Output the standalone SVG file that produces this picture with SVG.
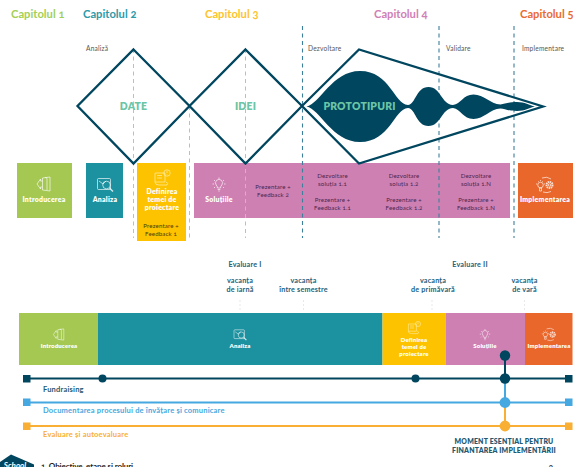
<svg xmlns="http://www.w3.org/2000/svg" width="586" height="467" viewBox="0 0 586 467">
<style>
text{font-family:"Lato","Liberation Sans",sans-serif;text-anchor:middle;font-variant-numeric:oldstyle-nums}
.cap{font-size:11.2px;font-weight:700;text-anchor:start}
.ph{font-size:6.6px;fill:#555;text-anchor:start;letter-spacing:.2px}
.big{font-size:10.4px;font-weight:800;fill:#6cc5a5;letter-spacing:.2px}
.w{font-size:6.9px;font-weight:800;fill:#fff;letter-spacing:.25px}
.ws{font-size:6px;font-weight:800;fill:#fff;letter-spacing:.15px}
.d{font-size:6.1px;fill:#4a2650;letter-spacing:.15px}
.dy{font-size:6.1px;fill:#4a3c00;letter-spacing:.15px}
.ev{font-size:7.2px;font-weight:700;fill:#24607a;letter-spacing:.2px}
.lab{font-size:7.5px;font-weight:700;text-anchor:start;letter-spacing:.2px}
.m{font-size:6.9px;font-weight:800;fill:#1f5a72;letter-spacing:.2px}
.dia{fill:none;stroke:#00465f;stroke-width:2.3;stroke-linejoin:miter}
.dl{fill:none;stroke:#a6c7d0;stroke-width:1;stroke-dasharray:4 3.5}
.dk{fill:none;stroke:#3e7f9b;stroke-width:1.1;stroke-dasharray:4 3.5}
.fa{fill:none;stroke:#e9e9e9;stroke-width:1;stroke-dasharray:2 2}
.ic{fill:none;stroke:#fff;stroke-opacity:.8;stroke-width:.8;stroke-linejoin:round}
</style>
<defs>
<g id="door" class="ic"><path d="M-1.500-6 L6-7 V7 L-1.500 6 Z M1-6.500 Q3-7 3-5 V6"/><path d="M-1.500-3 H-3.500 V-5 L-7 0 L-3.500 5 V3 H-1.500"/></g>
<g id="mag" class="ic"><rect x="-7.500" y="-6.500" width="13" height="11" rx="1"/><path d="M-6-4 L-2-1 L1-4"/><circle cx="1.500" cy="0" r="3.800"/><path d="M4.500 3 L8 6.500" stroke-width="1.500"/></g>
<g id="def" class="ic" style="stroke:#fff3c0"><path d="M-7-5 H3 V4 H-7 Z M-5-2.500 H0 M-5 0 H0"/><circle cx="5" cy="-5" r="3.200"/><path d="M5-7 V-5 M5-4 V-3.400"/><path d="M-7 4 Q-7 7-3 7 H5 Q7 5 4 4"/></g>
<g id="bulb" class="ic"><path d="M-1.500 3 Q-1.500 1.500-2.800 0 A3.500 3.500 0 1 1 2.800 0 Q1.500 1.500 1.500 3 Z M-1.300 4.500 H1.300 M-.7 6 H.7"/><path d="M0-7.500 V-6 M-5-5 L-4-4 M5-5 L4-4 M-6.500-1 H-5 M6.500-1 H5 M-5 3 L-4 2 M5 3 L4 2"/></g>
<g id="gears" class="ic"><circle cx="-4.500" cy="0" r="2.800"/><path d="M-4.500-5 V-4 M-9-1 H-8 M-1-1 H0 M-7-4 L-6.300-3.300 M-2-4 L-2.700-3.300 M-5.500 3 H-3.500 V6 H-5.500 Z"/><circle cx="4.500" cy="0" r="3" stroke-width="2" stroke-dasharray="1.400 .6"/><circle cx="4.500" cy="0" r="1.200"/><path d="M-3-7 Q2-9 6-6 M6 6.500 Q2 8.500-2 7"/></g>
</defs>

<rect width="586" height="467" fill="#fff"/>

<g id="chapters">
<text class="cap" x="11" y="18" fill="#a3cf55">Capitolul 1</text>
<text class="cap" x="83" y="18" fill="#2c9aa9">Capitolul 2</text>
<text class="cap" x="205" y="18" fill="#fdc32d">Capitolul 3</text>
<text class="cap" x="374" y="18" fill="#d07fb5">Capitolul 4</text>
<text class="cap" x="520" y="18" fill="#ea6a32">Capitolul 5</text>
</g>
<g id="phases">
<text class="ph" x="86" y="51">Analiză</text>
<text class="ph" x="308" y="51">Dezvoltare</text>
<text class="ph" x="446" y="51">Validare</text>
<text class="ph" x="522" y="51">Implementare</text>
</g>

<g id="box-introducerea"><rect x="17" y="163" width="55" height="55" fill="#a4c851"/><use href="#door" x="44" y="184"/><text class="w" x="44" y="202">Introducerea</text></g>
<g id="box-analiza"><rect x="86" y="163" width="37" height="55" fill="#1c91a0"/><use href="#mag" x="105" y="185"/><text class="w" x="105" y="202">Analiza</text></g>
<g id="box-definirea"><rect x="137" y="163" width="49" height="78" fill="#fdc300"/><use href="#def" x="162" y="178"/><text class="w" x="162" y="193.500">Definirea</text><text class="w" x="162" y="202">temei de</text><text class="w" x="162" y="210">proiectare</text><text class="dy" x="161" y="228">Prezentare +</text><text class="dy" x="161" y="235.500">Feedback 1</text></g>
<g id="box-solutii"><rect x="194" y="163" width="316" height="55" fill="#cf80b2"/><use href="#bulb" x="219" y="185"/><text class="w" x="219" y="202">Soluțiile</text>
<text class="d" x="273" y="189">Prezentare +</text><text class="d" x="273" y="196.500">Feedback 2</text>
<text class="d" x="332.500" y="178">Dezvoltare</text><text class="d" x="332.500" y="185.500">soluția 1.1</text><text class="d" x="332.500" y="202">Prezentare +</text><text class="d" x="332.500" y="209.500">Feedback 1.1</text>
<text class="d" x="404" y="178">Dezvoltare</text><text class="d" x="404" y="185.500">soluția 1.2</text><text class="d" x="404" y="202">Prezentare +</text><text class="d" x="404" y="209.500">Feedback 1.2</text>
<text class="d" x="476" y="178">Dezvoltare</text><text class="d" x="476" y="185.500">soluția 1.N</text><text class="d" x="476" y="202">Prezentare +</text><text class="d" x="476" y="209.500">Feedback 1.N</text></g>
<g id="box-implementarea"><rect x="518" y="163" width="55" height="55" fill="#e9672b"/><use href="#gears" x="545" y="185"/><text class="w" x="545" y="202">Implementarea</text></g>

<g id="connectors">
<path class="dl" d="M133.500 49V238M189.500 106V238M245.500 49V238"/>
<path class="dk" d="M302.500 26V238M439 26V238M514 26V238"/>
<path class="fa" d="M240 300V312M303.500 300V312M432 300V312M524.500 300V312"/>
</g>

<g id="diamond-date"><path class="dia" d="M133.500 49.500L189.500 106L133.500 163.500L77.500 106Z"/><text class="big" x="133.500" y="110">DATE</text></g>
<g id="diamond-idei"><path class="dia" d="M245.500 49.500L302 106L245.500 163.500L189.500 106Z"/><text class="big" x="245.500" y="110">IDEI</text></g>
<g id="diamond-prototipuri"><path class="dia" d="M302 106L359 49.500L543 106.500L359 163.500Z"/>
<path fill="#00465f" d="M306.500 106.500C320 104 332 71 360 71C390 71 394 104 408 105C416 104 416 87 428.500 87C441 87 441 104 453 105C461 104 463 94.500 473.500 94.500C484 94.500 490 104 500.500 104.500C505 104 509 102 517 102C525 102 529 105 535 106.500C529 108 525 111 517 111C509 111 505 109 500.500 108.500C490 109 484 119 473.500 119C463 119 461 109 453 108C441 109 441 126 428.500 126C416 126 416 109 408 108C394 109 390 142 360 142C332 142 320 109 306.500 106.500Z"/>
<text class="big" x="359.500" y="110">PROTOTIPURI</text></g>

<g id="evaluations">
<text class="ev" x="245" y="267">Evaluare I</text><text class="ev" x="470" y="267">Evaluare II</text>
<text class="ev" x="240" y="283">vacanța</text><text class="ev" x="240" y="291.500">de iarnă</text>
<text class="ev" x="303.500" y="283">vacanța</text><text class="ev" x="303.500" y="291.500">între semestre</text>
<text class="ev" x="433" y="283">vacanța</text><text class="ev" x="433" y="291.500">de primăvară</text>
<text class="ev" x="524.500" y="283">vacanța</text><text class="ev" x="524.500" y="291.500">de vară</text>
</g>

<g id="bar-introducerea"><rect x="19" y="313" width="79" height="52" fill="#a4c851"/><use href="#door" transform="translate(59 334.500) scale(.8)"/><text class="ws" x="59" y="348">Introducerea</text></g>
<g id="bar-analiza"><rect x="98" y="313" width="284.500" height="52" fill="#1c91a0"/><use href="#mag" transform="translate(240 335) scale(.8)"/><text class="ws" x="240" y="348">Analiza</text></g>
<g id="bar-definirea"><rect x="382.500" y="313" width="63.500" height="52" fill="#fdc300"/><use href="#def" transform="translate(414 328) scale(.8)"/><text class="ws" x="414" y="341.500">Definirea</text><text class="ws" x="414" y="348.500">temei de</text><text class="ws" x="414" y="355.500">proiectare</text></g>
<g id="bar-solutii"><rect x="446" y="313" width="79" height="52" fill="#cf80b2"/><use href="#bulb" transform="translate(485 335) scale(.8)"/><text class="ws" x="485" y="348">Soluțiile</text></g>
<g id="bar-implementarea"><rect x="525" y="313" width="47.500" height="52" fill="#e9672b"/><use href="#gears" transform="translate(549 334.500) scale(.8)"/><text class="ws" x="549" y="348">Implementarea</text></g>

<g id="timelines">
<path d="M27 378.500H568" stroke="#00465f" stroke-width="1.800"/>
<path d="M27 402.500H568" stroke="#45a8e0" stroke-width="1.800"/>
<path d="M27 426H568" stroke="#f9ae34" stroke-width="1.800"/>
<path d="M505 402.500V426" stroke="#f9ae34" stroke-width="2"/>
<path d="M505 378.500V402.500" stroke="#45a8e0" stroke-width="2"/>
<path d="M505 355V378.500" stroke="#00465f" stroke-width="2"/>
</g>
<g id="fundraising" fill="#00465f">
<rect x="23" y="375" width="7.500" height="7.500"/><rect x="565" y="375" width="7.500" height="7.500"/>
<circle cx="102.500" cy="378.500" r="4"/><circle cx="415.500" cy="378.500" r="4"/><circle cx="505" cy="378.500" r="5.200"/><circle cx="505" cy="355.500" r="5.200"/>
<text class="lab" x="43" y="392" fill="#1f5a72">Fundraising</text>
</g>
<g id="documentare" fill="#45a8e0">
<rect x="23" y="398.500" width="7.500" height="7.500"/><rect x="565" y="398.500" width="7.500" height="7.500"/><circle cx="505" cy="402.500" r="5.400"/>
<text class="lab" x="43" y="413">Documentarea procesului de învățare și comunicare</text>
</g>
<g id="evaluare" fill="#f9ae34">
<rect x="23" y="422.500" width="7.500" height="7.500"/><rect x="565" y="422.500" width="7.500" height="7.500"/><circle cx="505" cy="426" r="5.400"/>
<text class="lab" x="43" y="437">Evaluare și autoevaluare</text>
</g>
<g id="moment">
<text class="m" x="504" y="443.500">MOMENT ESENȚIAL PENTRU</text>
<text class="m" x="504" y="452.500">FINANTAREA IMPLEMENTĂRII</text>
</g>

<g id="footer">
<path d="M0 462L11 454.500L34 464.500V467H0Z" fill="#00465f"/>
<text x="15" y="468" style="font-size:8px;font-style:italic;font-weight:700;fill:#fff">School</text>
<text x="41" y="469" style="font-size:8px;font-weight:700;fill:#222;text-anchor:start;letter-spacing:-.1px">1. Objective, etape și roluri</text>
<text x="551" y="470" style="font-size:8px;font-weight:700;fill:#222">2</text>
</g>
</svg>
